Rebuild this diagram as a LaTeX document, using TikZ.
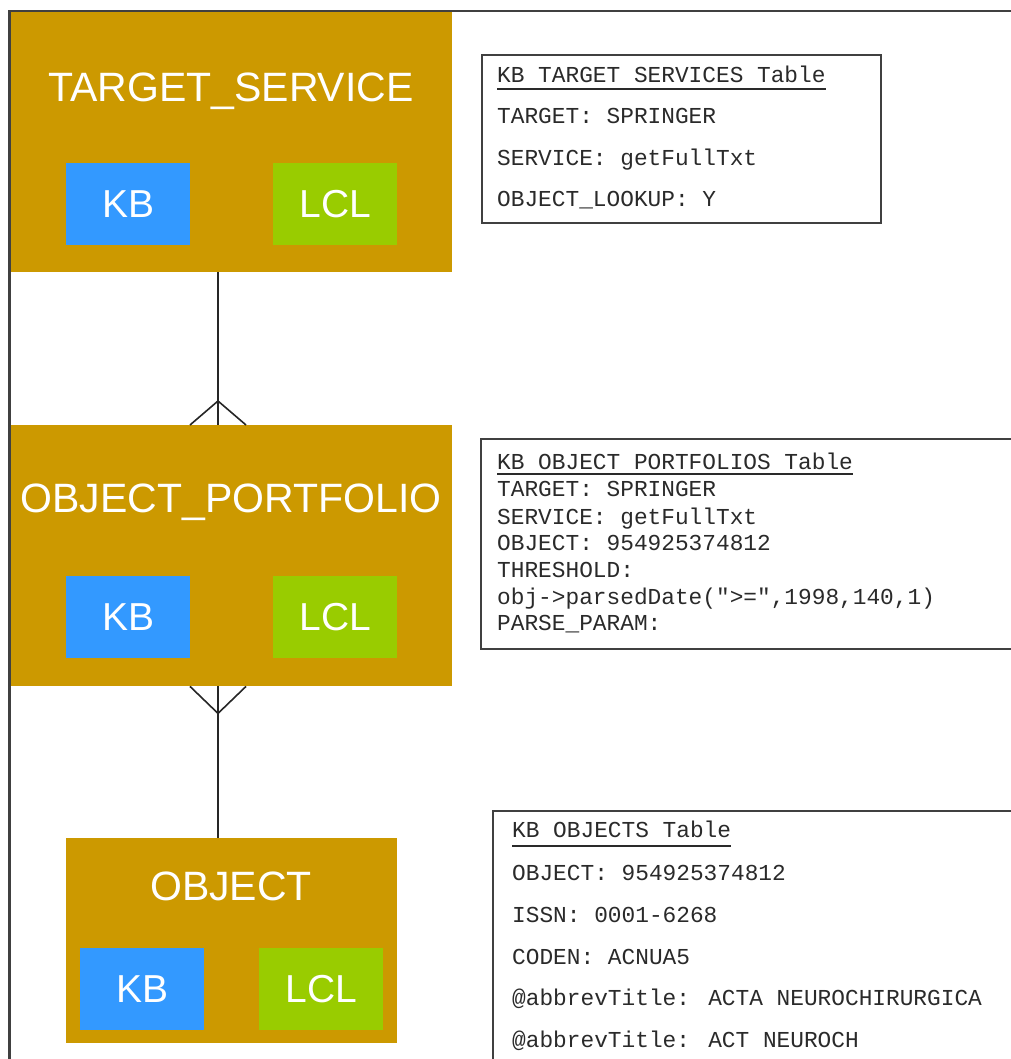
\documentclass[tikz,border=0pt]{standalone}
\usepackage{fontspec}
\setmainfont{Liberation Sans}
\newfontfamily\tblfont{Liberation Mono}
\usetikzlibrary{calc}
\definecolor{ochre}{HTML}{CC9900}
\definecolor{kbblue}{HTML}{3399FF}
\definecolor{lclgreen}{HTML}{99CC00}
\definecolor{framegray}{HTML}{404040}
\definecolor{txtgray}{HTML}{2A2A2A}
\tikzset{
  entity/.style={fill=ochre, draw=none, anchor=north west, inner sep=0pt},
  etitle/.style={text=white, font=\fontsize{41}{41}\selectfont, anchor=base, inner sep=0pt},
  kbbox/.style={fill=kbblue, text=white, font=\fontsize{39}{39}\selectfont, anchor=north west,
    minimum width=124pt, minimum height=82pt, inner sep=0pt},
  lclbox/.style={kbbox, fill=lclgreen},
  conn/.style={draw=black!85, line width=1.6pt},
  frameline/.style={draw=framegray, line width=2.2pt},
  tbox/.style={draw=framegray, line width=1.6pt},
  tline/.style={font=\tblfont\fontsize{22.8}{22.8}\selectfont, text=txtgray, anchor=base west, inner sep=0pt},
  uline/.style={draw=txtgray, line width=2pt}
}
\begin{document}
\begin{tikzpicture}[x=1pt,y=-1pt]
\useasboundingbox[fill=white] (0,0) rectangle (1010,1059);
% frame
\draw[frameline] (1012,11) -- (9.5,11) -- (9.5,1061);

% TARGET_SERVICE
\node[entity, minimum width=441pt, minimum height=260pt] (ts) at (11,12) {};
\node[etitle] (tst) at (231,102) {TARGET\_SERVICE};
\node[kbbox] (tskb) at (66,163) {KB};
\node[lclbox] (tslcl) at (273,163) {LCL};

% OBJECT_PORTFOLIO
\node[entity, minimum width=441pt, minimum height=261pt] (op) at (11,425) {};
\node[etitle] (opt) at (231,512) {OBJECT\_PORTFOLIO};
\node[kbbox] (opkb) at (66,576) {KB};
\node[lclbox] (oplcl) at (273,576) {LCL};

% OBJECT
\node[entity, minimum width=331pt, minimum height=205pt] (ob) at (66,838) {};
\node[etitle] (obt) at (231,900) {OBJECT};
\node[kbbox] (obkb) at (80,948) {KB};
\node[lclbox] (oblcl) at (259,948) {LCL};

% connectors
\coordinate (ax) at (218,0);
\draw[conn] (ts.south -| ax) -- (op.north -| ax);
\draw[conn] ($(op.north -| ax)+(-28,0)$) -- ($(op.north -| ax)+(0,-24)$) -- ($(op.north -| ax)+(28,0)$);
\draw[conn] (op.south -| ax) -- (ob.north -| ax);
\draw[conn] ($(op.south -| ax)+(-28,0)$) -- ($(op.south -| ax)+(0,27)$) -- ($(op.south -| ax)+(28,0)$);

% Table 1
\node[tbox, anchor=north west, minimum width=399pt, minimum height=168pt, inner sep=0pt] (t1) at (481,54) {};
\node[tline] (t1h) at (497,83) {KB TARGET SERVICES Table};
\draw[uline] ([yshift=-6pt]t1h.base west) -- ([yshift=-6pt]t1h.base east);
\node[tline] (t1a) at (497,124) {TARGET: SPRINGER};
\node[tline] (t1b) at (497,166) {SERVICE: getFullTxt};
\node[tline] (t1c) at (497,207) {OBJECT\_LOOKUP: Y};

% Table 2
\draw[tbox] (1012,439) -- (481,439) -- (481,649) -- (1012,649);
\node[tline] (t2h) at (497,469) {KB OBJECT PORTFOLIOS Table};
\draw[uline] ([yshift=-4.5pt]t2h.base west) -- ([yshift=-4.5pt]t2h.base east);
\node[tline] (t2a) at (497,496) {TARGET: SPRINGER};
\node[tline] (t2b) at (497,524) {SERVICE: getFullTxt};
\node[tline] (t2c) at (497,550) {OBJECT: 954925374812};
\node[tline] (t2d) at (497,577) {THRESHOLD:};
\node[tline] (t2e) at (497,604) {obj->parsedDate(">=",1998,140,1)};
\node[tline] (t2f) at (497,630) {PARSE\_PARAM:};

% Table 3
\draw[tbox] (1012,811) -- (493,811) -- (493,1061);
\node[tline] (t3h) at (512,837) {KB OBJECTS Table};
\draw[uline] ([yshift=-9pt]t3h.base west) -- ([yshift=-9pt]t3h.base east);
\node[tline] (t3a) at (512,880) {OBJECT: 954925374812};
\node[tline] (t3b) at (512,922) {ISSN: 0001-6268};
\node[tline] (t3c) at (512,964) {CODEN: ACNUA5};
\node[tline] (t3d) at (512,1005) {@abbrevTitle: ACTA NEUROCHIRURGICA};
\node[tline] (t3e) at (512,1047) {@abbrevTitle: ACT NEUROCH};
\end{tikzpicture}
\end{document}
